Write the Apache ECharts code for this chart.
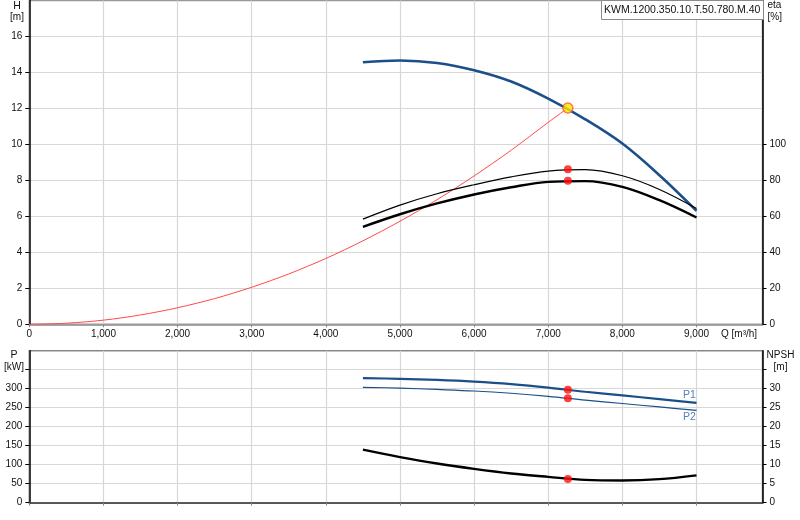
<!DOCTYPE html>
<html>
<head>
<meta charset="utf-8">
<script src="https://cdn.jsdelivr.net/npm/echarts@6/dist/echarts.min.js"></script>
<style>
html,body{margin:0;padding:0;background:#fff;}
#c{width:800px;height:520px;}
</style>
</head>
<body>
<div id="c"></div>
<script>
// ---- data ----
const chartTitle = 'KWM.1200.350.10.T.50.780.M.40';
const qCurve = [4500, 5000, 5500, 6000, 6500, 7000, 7500, 8000, 8500, 9000];
const headH = [14.57, 14.67, 14.53, 14.13, 13.5, 12.55, 11.4, 10.05, 8.29, 6.31];
const etaHydraulic = [58.5, 66.3, 72.6, 77.6, 82.0, 85.2, 86.0, 82.6, 75.0, 64.4];
const etaTotal = [54.2, 61.2, 67.2, 72.2, 76.2, 79.2, 79.6, 76.4, 69.0, 59.4];
const powerP1 = [328, 326, 323, 318.5, 312, 303, 292, 282.5, 272.5, 262.5];
const powerP2 = [303.7, 301.5, 298, 294, 288, 280, 270, 261, 252, 243];
const npsh = [13.95, 12.0, 10.3, 8.9, 7.7, 6.8, 6.0, 5.85, 6.2, 7.2];
const qSystem = [0, 500, 1000, 1500, 2000, 2500, 3000, 3500, 4000, 4500, 5000, 5500, 6000, 6500, 7000, 7265];
const hSystem = [0, 0.06, 0.23, 0.52, 0.92, 1.43, 2.06, 2.8, 3.66, 4.64, 5.73, 6.93, 8.25, 9.68, 11.23, 12.03];
const opQ = 7265;
const opH = 12.03;
const opEtaHydraulic = 86.2;
const opEtaTotal = 79.8;
const opP1 = 297.5;
const opP2 = 275;
const opNpsh = 6.24;
const qMax = 9890;
const qTicks = [0, 1000, 2000, 3000, 4000, 5000, 6000, 7000, 8000, 9000];
const hTicks = [0, 2, 4, 6, 8, 10, 12, 14, 16];
const etaTicks = [0, 20, 40, 60, 80, 100];
const pTicks = [0, 50, 100, 150, 200, 250, 300, 350];
const pLabels = [0, 50, 100, 150, 200, 250, 300];
const npshTicks = [0, 5, 10, 15, 20, 25, 30, 35];
const npshLabels = [0, 5, 10, 15, 20, 25, 30];

const zip = (xs, ys) => xs.map((x, i) => [x, ys[i]]);

const FONT = 'Liberation Sans, Arial, sans-serif';
const BLUE = '#1b4f8a';
const GRID = '#d7d7d7';
const lbl = {fontFamily: FONT, fontSize: 10, color: '#111'};

function xAxisCfg(gridIndex, showLabels, lineColor) {
  return {
    type: 'value', gridIndex, min: 0, max: qMax, interval: 1000,
    axisLine: {show: true, lineStyle: {color: lineColor, width: 1.6}},
    axisTick: {show: true, length: 3, customValues: qTicks, lineStyle: {color: '#888'}},
    axisLabel: Object.assign({show: showLabels, margin: 5, customValues: qTicks,
      formatter: v => v.toLocaleString('en-US')}, lbl),
    splitLine: {show: true, lineStyle: {color: GRID, width: 1.2}}
  };
}
function yAxisCfg(gridIndex, pos, max, interval, ticks, labels, split) {
  return {
    type: 'value', gridIndex, position: pos, min: 0, max, interval,
    axisLine: {show: true, lineStyle: {color: '#000', width: 1.5}},
    axisTick: {show: true, length: 4, customValues: ticks, lineStyle: {color: '#000'}},
    axisLabel: Object.assign({margin: 7, customValues: labels}, lbl),
    splitLine: {show: split, lineStyle: {color: GRID, width: 1.2}}
  };
}
function txt(text, x, y, align, size) {
  return {type: 'text', style: {text, x, y, align, verticalAlign: 'middle', font: size + 'px ' + FONT, fill: '#111'}};
}

const chart = echarts.init(document.getElementById('c'), null, {renderer: 'canvas'});
chart.setOption({
  animation: false,
  backgroundColor: '#fff',
  title: {
    text: chartTitle, left: 601, top: 0, padding: [5, 3, 4, 3],
    borderColor: '#8a8a8a', borderWidth: 1, backgroundColor: '#fff',
    textStyle: {fontFamily: FONT, fontSize: 10.5, fontWeight: 'normal', color: '#111'},
    z: 20
  },
  grid: [
    {left: 29.3, right: 37.5, top: 0.6, height: 323.7, show: true, borderColor: '#999', borderWidth: 1.5},
    {left: 29.3, right: 37.5, top: 350.7, height: 152, show: true, borderColor: '#888', borderWidth: 1.5}
  ],
  xAxis: [
    xAxisCfg(0, true, '#888'),
    xAxisCfg(1, false, '#333')
  ],
  yAxis: [
    yAxisCfg(0, 'left', 18, 2, hTicks, hTicks, true),
    yAxisCfg(0, 'right', 180, 20, etaTicks, etaTicks, false),
    yAxisCfg(1, 'left', 400, 50, pTicks, pLabels, true),
    yAxisCfg(1, 'right', 40, 5, npshTicks, npshLabels, false)
  ],
  graphic: [
    txt('H', 17, 6.5, 'center', 10.5),
    txt('[m]', 17, 17.5, 'center', 10),
    txt('eta', 767.5, 5, 'left', 10),
    txt('[%]', 767.5, 17, 'left', 10),
    txt('Q [m\u00b3/h]', 721, 334.5, 'left', 10),
    txt('P', 14, 355, 'center', 10.5),
    txt('[kW]', 14, 367.5, 'center', 10),
    txt('NPSH', 780.5, 355.5, 'center', 10),
    txt('[m]', 780.5, 367, 'center', 10)
  ],
  series: [
    {type: 'line', name: 'system', xAxisIndex: 0, yAxisIndex: 0, data: zip(qSystem, hSystem),
      smooth: 0.3, symbol: 'none', lineStyle: {color: '#ff4a4a', width: 1}, z: 3},
    {type: 'line', name: 'H', xAxisIndex: 0, yAxisIndex: 0, data: zip(qCurve, headH),
      smooth: 0.35, symbol: 'none', lineStyle: {color: BLUE, width: 2.6}, z: 4},
    {type: 'line', name: 'eta1', xAxisIndex: 0, yAxisIndex: 1, data: zip(qCurve, etaHydraulic),
      smooth: 0.35, symbol: 'none', lineStyle: {color: '#000', width: 1.2}, z: 4},
    {type: 'line', name: 'eta2', xAxisIndex: 0, yAxisIndex: 1, data: zip(qCurve, etaTotal),
      smooth: 0.35, symbol: 'none', lineStyle: {color: '#000', width: 2.4}, z: 4},
    {type: 'line', name: 'P1', xAxisIndex: 1, yAxisIndex: 2, data: zip(qCurve, powerP1),
      smooth: 0.35, symbol: 'none', lineStyle: {color: BLUE, width: 2.2}, z: 4},
    {type: 'line', name: 'P2', xAxisIndex: 1, yAxisIndex: 2, data: zip(qCurve, powerP2),
      smooth: 0.35, symbol: 'none', lineStyle: {color: BLUE, width: 1.2}, z: 4},
    {type: 'line', name: 'NPSH', xAxisIndex: 1, yAxisIndex: 3, data: zip(qCurve, npsh),
      smooth: 0.35, symbol: 'none', lineStyle: {color: '#000', width: 2.4}, z: 4},
    {type: 'scatter', xAxisIndex: 1, yAxisIndex: 2, symbolSize: 0, silent: true,
      data: [[qCurve[qCurve.length - 1], powerP1[powerP1.length - 1]]],
      label: {show: true, position: 'inside', formatter: 'P1', offset: [-7, -8], fontFamily: FONT, fontSize: 10.5, color: '#2b62a6'}, z: 6},
    {type: 'scatter', xAxisIndex: 1, yAxisIndex: 2, symbolSize: 0, silent: true,
      data: [[qCurve[qCurve.length - 1], powerP2[powerP2.length - 1]]],
      label: {show: true, position: 'inside', formatter: 'P2', offset: [-7, 6.5], fontFamily: FONT, fontSize: 10.5, color: '#2b62a6'}, z: 6},
    {type: 'scatter', xAxisIndex: 0, yAxisIndex: 0, data: [[opQ, opH]], symbolSize: 10,
      itemStyle: {color: '#ffe600', borderColor: '#ff5a2a', borderWidth: 1.5}, z: 10},
    {type: 'scatter', xAxisIndex: 0, yAxisIndex: 1, data: [[opQ, opEtaHydraulic], [opQ, opEtaTotal]], symbolSize: 8,
      itemStyle: {color: '#ff1010'}, z: 10},
    {type: 'scatter', xAxisIndex: 1, yAxisIndex: 2, data: [[opQ, opP1], [opQ, opP2]], symbolSize: 8,
      itemStyle: {color: '#ff1010'}, z: 10},
    {type: 'scatter', xAxisIndex: 1, yAxisIndex: 3, data: [[opQ, opNpsh]], symbolSize: 8,
      itemStyle: {color: '#ff1010'}, z: 10}
  ]
});
</script>
</body>
</html>
